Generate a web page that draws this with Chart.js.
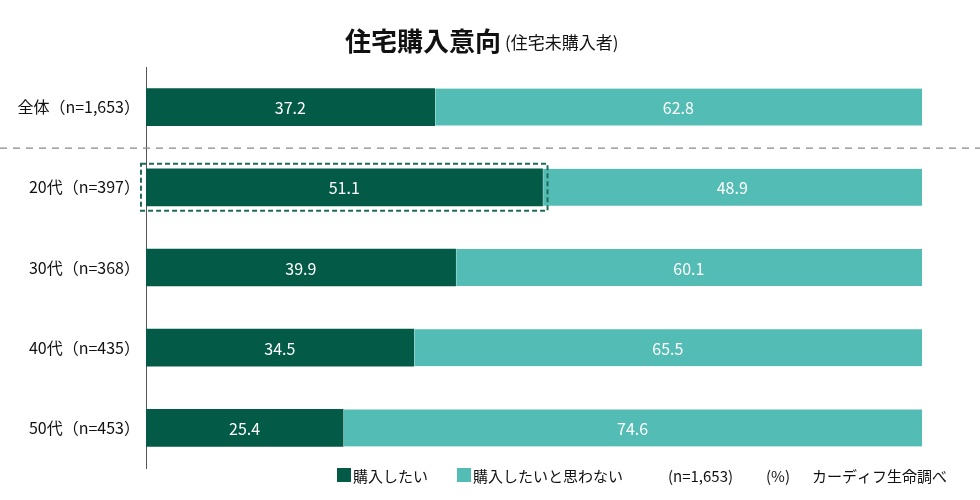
<!DOCTYPE html>
<html>
<head>
<meta charset="utf-8">
<script src="https://cdn.jsdelivr.net/npm/chart.js@4/dist/chart.umd.min.js"></script>
<style>
  html, body { margin: 0; padding: 0; background: #fff; }
  #wrap { width: 980px; height: 500px; }
</style>
</head>
<body>
<div id="wrap"><canvas id="grafico" width="980" height="500"></canvas></div>
<script>
// datos
const categorias = ['全体（n=1,653）', '20代（n=397）', '30代（n=368）', '40代（n=435）', '50代（n=453）'];
const comprarSi = [37.2, 51.1, 39.9, 34.5, 25.4];
const comprarNo = [62.8, 48.9, 60.1, 65.5, 74.6];
const nombresSeries = ['購入したい', '購入したいと思わない'];

const FUENTE = '"Noto Sans CJK JP", "Noto Sans", sans-serif';
const VERDE = '#035a46';
const TURQUESA = '#53bcb4';

// títulos, líneas discontinuas, etiquetas y leyenda
const extras = {
  id: 'extras',
  afterDatasetsDraw(chart) {
    const c = chart.ctx;
    const yEje = chart.scales.y;

    // valores dentro de las barras
    c.save();
    c.fillStyle = '#fff';
    c.font = '16px ' + FUENTE;
    c.textAlign = 'center';
    c.textBaseline = 'middle';
    chart.data.datasets.forEach((ds, i) => {
      chart.getDatasetMeta(i).data.forEach((bar, j) => {
        const mitad = (bar.x + bar.base) / 2;
        c.fillText(ds.data[j].toFixed(1), mitad, bar.y + 1);
      });
    });
    c.restore();

    // separador entre 全体 y los grupos de edad
    const ySep = (yEje.getPixelForValue(0) + yEje.getPixelForValue(1)) / 2 + 1;
    c.save();
    c.strokeStyle = '#888';
    c.lineWidth = 1.3;
    c.setLineDash([7, 6]);
    c.beginPath();
    c.moveTo(0, ySep);
    c.lineTo(980, ySep);
    c.stroke();
    c.restore();

    // recuadro resaltando 20代
    const barra = chart.getDatasetMeta(0).data[1];
    c.save();
    c.strokeStyle = '#1f6b58';
    c.lineWidth = 2;
    c.setLineDash([5, 3]);
    c.strokeRect(barra.base - 5, barra.y - barra.height / 2 - 5, barra.x - barra.base + 10, barra.height + 10);
    c.restore();

    // título
    c.save();
    c.fillStyle = '#111';
    c.textBaseline = 'alphabetic';
    const t1 = '住宅購入意向';
    const t2 = '(住宅未購入者)';
    c.font = 'bold 26px ' + FUENTE;
    c.fillText(t1, 345, 51);
    const w1 = c.measureText(t1).width;
    c.font = '17px ' + FUENTE;
    c.fillText(t2, 345 + w1 + 4, 49);
    c.restore();

    // leyenda
    c.save();
    c.font = '15px ' + FUENTE;
    c.textBaseline = 'middle';
    c.fillStyle = VERDE;
    c.fillRect(337, 468, 14, 14);
    c.fillStyle = TURQUESA;
    c.fillRect(457, 468, 14, 14);
    c.fillStyle = '#111';
    c.fillText(nombresSeries[0], 353, 476);
    c.fillText(nombresSeries[1], 473, 476);
    c.fillText('(n=1,653)', 668, 476);
    c.fillText('(%)', 766, 476);
    c.fillText('カーディフ生命調べ', 812, 476);
    c.restore();
  }
};

const ctx = document.getElementById('grafico').getContext('2d');
window.grafico = new Chart(ctx, {
  type: 'bar',
  data: {
    labels: categorias,
    datasets: [
      { label: nombresSeries[0], data: comprarSi, backgroundColor: VERDE, barThickness: 37 },
      { label: nombresSeries[1], data: comprarNo, backgroundColor: TURQUESA, barThickness: 37,
        borderColor: '#fff', borderWidth: { left: 1 }, borderSkipped: false }
    ]
  },
  options: {
    indexAxis: 'y',
    responsive: false,
    animation: false,
    layout: { padding: { top: 67, bottom: 32, left: 0, right: 58 } },
    plugins: {
      legend: { display: false },
      tooltip: { enabled: false }
    },
    scales: {
      x: { stacked: true, min: 0, max: 100, display: false },
      y: {
        stacked: true,
        grid: { display: false, drawTicks: false },
        border: { display: true, color: '#555', width: 1 },
        ticks: { color: '#111', font: { size: 16, family: FUENTE }, padding: 6 },
        afterFit(scale) { scale.width = 146; }
      }
    }
  },
  plugins: [extras]
});
</script>
</body>
</html>
